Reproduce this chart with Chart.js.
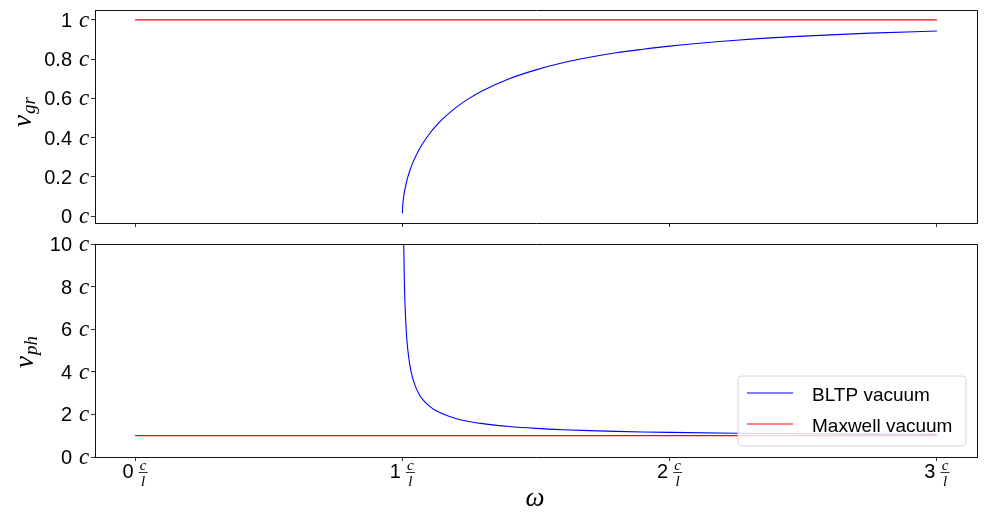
<!DOCTYPE html>
<html>
<head>
<meta charset="utf-8">
<script src="https://cdn.jsdelivr.net/npm/chart.js@4.4.0/dist/chart.umd.min.js"></script>
<style>
  html, body { margin: 0; padding: 0; background: #fff; }
  #wrap { position: relative; width: 997px; height: 512px; }
  canvas { position: absolute; left: 0; }
  #topChart { top: 0; }
  #bottomChart { top: 235px; }
</style>
</head>
<body>
<div id="wrap">
  <canvas id="topChart" width="997" height="235"></canvas>
  <canvas id="bottomChart" width="997" height="277"></canvas>
</div>
<script>
// tick values / labels
const xTicks = [0, 1, 2, 3];
const xTickLabels = ['0', '1', '2', '3'];
const grTicks = [0, 0.2, 0.4, 0.6, 0.8, 1];
const grTickLabels = ['0', '0.2', '0.4', '0.6', '0.8', '1'];
const phTicks = [0, 2, 4, 6, 8, 10];
const phTickLabels = ['0', '2', '4', '6', '8', '10'];

// group velocity, BLTP vacuum
const omegaGr = [1.0001, 1.0005, 1.001, 1.002, 1.003, 1.005, 1.0075, 1.01, 1.015, 1.02, 1.03, 1.04, 1.05, 1.06, 1.075,
  1.1, 1.125, 1.15, 1.2, 1.25, 1.3, 1.4, 1.5, 1.6, 1.7, 1.8, 1.9, 2.0, 2.25, 2.5, 2.75, 3.0];
const bltpGr = [0.014, 0.032, 0.045, 0.063, 0.077, 0.100, 0.122, 0.140, 0.171, 0.197, 0.240, 0.275, 0.305, 0.332, 0.367,
  0.417, 0.458, 0.494, 0.553, 0.600, 0.639, 0.700, 0.745, 0.781, 0.809, 0.832, 0.850, 0.866, 0.896, 0.917, 0.932, 0.943];

// phase velocity, BLTP vacuum
const omegaPh = [1.004, 1.005, 1.0075, 1.01, 1.015, 1.02, 1.03, 1.04, 1.05, 1.06, 1.075, 1.1, 1.125, 1.15, 1.2, 1.25,
  1.3, 1.4, 1.5, 1.6, 1.7, 1.8, 1.9, 2.0, 2.25, 2.5, 2.75, 3.0];
const bltpPh = [11.2, 10.04, 8.21, 7.12, 5.84, 5.07, 4.17, 3.64, 3.28, 3.01, 2.72, 2.40, 2.18, 2.03, 1.81, 1.667,
  1.565, 1.429, 1.342, 1.281, 1.237, 1.203, 1.176, 1.155, 1.116, 1.091, 1.074, 1.061];

// Maxwell vacuum: both velocities equal c
const maxwellOmega = [0, 3];
const maxwellV = [1, 1];

const legendLabels = ['BLTP vacuum', 'Maxwell vacuum'];
const seriesColors = ['#0000ff', '#ff0000'];

const SANS = '"Liberation Sans", Arial, sans-serif';
const SERIF = '"Liberation Serif", "DejaVu Serif", serif';

const toPoints = (xs, ys) => xs.map((x, i) => ({ x: x, y: ys[i] }));

// Draws frame, mixed-font tick labels, axis titles and the legend
const decorPlugin = {
  id: 'decor',
  afterDatasetsDraw(chart, args, opts) {
    const ctx = chart.ctx;
    const area = chart.chartArea;
    const xs = chart.scales.x;
    const ys = chart.scales.y;
    ctx.save();

    // y tick labels: "0.8 c"
    opts.yTicks.forEach((v, i) => {
      const py = ys.getPixelForValue(v);
      ctx.fillStyle = '#000';
      ctx.font = '20px ' + SANS;
      ctx.textAlign = 'right';
      ctx.textBaseline = 'alphabetic';
      ctx.fillText(opts.yLabels[i], 72, py + 7);
      ctx.font = 'italic 23px ' + SERIF;
      ctx.textAlign = 'left';
      ctx.fillText('c', 79, py + 7);
    });

    // x tick labels: "1 c/l"
    if (opts.xLabels) {
      const base = area.bottom + 21;
      xTicks.forEach((v, i) => {
        const px = xs.getPixelForValue(v);
        ctx.font = '20px ' + SANS;
        const dw = ctx.measureText(xTickLabels[i]).width;
        const total = dw + 5 + 9;
        const x0 = px - total / 2;
        ctx.textAlign = 'left';
        ctx.fillStyle = '#000';
        ctx.fillText(xTickLabels[i], x0, base);
        const fx = x0 + dw + 5 + 4.5;
        ctx.font = 'italic 15px ' + SERIF;
        ctx.textAlign = 'center';
        ctx.fillText('c', fx, base - 8);
        ctx.fillText('l', fx, base + 8);
        ctx.strokeStyle = '#000';
        ctx.lineWidth = 0.8;
        ctx.beginPath();
        ctx.moveTo(fx - 4.5, base - 5.5);
        ctx.lineTo(fx + 4.5, base - 5.5);
        ctx.stroke();
      });
      // x axis title
      ctx.font = 'italic 27px ' + SERIF;
      ctx.textAlign = 'center';
      ctx.fillText('\u03c9', 535, 271);
    }

    // y axis title, rotated
    ctx.save();
    ctx.translate(opts.titleX, opts.titleY);
    ctx.rotate(-Math.PI / 2);
    ctx.font = 'italic 27px ' + SERIF;
    const vw = ctx.measureText('v').width;
    ctx.font = 'italic 19px ' + SERIF;
    const sw = ctx.measureText(opts.sub).width;
    const start = -(vw + 1 + sw) / 2;
    ctx.textAlign = 'left';
    ctx.font = 'italic 27px ' + SERIF;
    ctx.fillText('v', start, 0);
    ctx.font = 'italic 19px ' + SERIF;
    ctx.fillText(opts.sub, start + vw + 1, 4);
    ctx.restore();

    // legend
    if (opts.legend) {
      const bx = 738, by = 141, bw = 228, bh = 70, r = 4;
      ctx.beginPath();
      ctx.moveTo(bx + r, by);
      ctx.arcTo(bx + bw, by, bx + bw, by + bh, r);
      ctx.arcTo(bx + bw, by + bh, bx, by + bh, r);
      ctx.arcTo(bx, by + bh, bx, by, r);
      ctx.arcTo(bx, by, bx + bw, by, r);
      ctx.closePath();
      ctx.fillStyle = 'rgba(255,255,255,0.8)';
      ctx.fill();
      ctx.strokeStyle = '#d6d6d6';
      ctx.lineWidth = 1;
      ctx.stroke();
      legendLabels.forEach((lab, i) => {
        const ly = 158 + i * 31;
        ctx.strokeStyle = seriesColors[i];
        ctx.lineWidth = 1.2;
        ctx.beginPath();
        ctx.moveTo(747, ly);
        ctx.lineTo(793, ly);
        ctx.stroke();
        ctx.fillStyle = '#000';
        ctx.font = '19px ' + SANS;
        ctx.textAlign = 'left';
        ctx.fillText(lab, 812, ly + 8);
      });
    }

    // top and right spines
    ctx.strokeStyle = '#111';
    ctx.lineWidth = 1;
    ctx.beginPath();
    ctx.moveTo(Math.round(area.left) + 0.5, Math.round(area.top) + 0.5);
    ctx.lineTo(Math.round(area.right) + 0.5, Math.round(area.top) + 0.5);
    ctx.lineTo(Math.round(area.right) + 0.5, Math.round(area.bottom) + 0.5);
    ctx.stroke();
    ctx.restore();
  }
};

function axisOpts(min, max, ticks, fixedSize, horizontal) {
  return {
    type: 'linear',
    min: min,
    max: max,
    afterBuildTicks: (s) => { s.ticks = ticks.map(v => ({ value: v })); },
    afterFit: (s) => { if (horizontal) s.height = fixedSize; else s.width = fixedSize; },
    ticks: { display: false },
    grid: { display: true, drawOnChartArea: false, drawTicks: true, tickLength: 4, color: '#000', lineWidth: 0.8 },
    border: { display: true, color: '#111', width: 1 }
  };
}

function makeChart(id, cfg) {
  return new Chart(document.getElementById(id).getContext('2d'), {
    type: 'line',
    data: {
      datasets: [
        { label: legendLabels[0], data: cfg.blue, borderColor: seriesColors[0], borderWidth: 1.1,
          pointRadius: 0, fill: false, cubicInterpolationMode: 'monotone' },
        { label: legendLabels[1], data: toPoints(maxwellOmega, maxwellV), borderColor: seriesColors[1],
          borderWidth: 1.3, pointRadius: 0, fill: false }
      ]
    },
    options: {
      responsive: false,
      animation: false,
      events: [],
      layout: { padding: cfg.padding },
      plugins: {
        legend: { display: false },
        tooltip: { enabled: false },
        decor: cfg.decor
      },
      scales: {
        x: axisOpts(-0.15, 3.15, xTicks, cfg.xHeight, true),
        y: axisOpts(cfg.yMin, cfg.yMax, cfg.yTicks, 95, false)
      }
    },
    plugins: [decorPlugin]
  });
}

makeChart('topChart', {
  blue: toPoints(omegaGr, bltpGr),
  padding: { left: 0, right: 20, top: 10, bottom: 0 },
  xHeight: 12,
  yMin: -0.035, yMax: 1.05, yTicks: grTicks,
  decor: { yTicks: grTicks, yLabels: grTickLabels, xLabels: false, legend: false, sub: 'gr', titleX: 31, titleY: 112 }
});

makeChart('bottomChart', {
  blue: toPoints(omegaPh, bltpPh),
  padding: { left: 0, right: 20, top: 9, bottom: 0 },
  xHeight: 55,
  yMin: 0, yMax: 10, yTicks: phTicks,
  decor: { yTicks: phTicks, yLabels: phTickLabels, xLabels: true, legend: true, sub: 'ph', titleX: 33, titleY: 117 }
});
</script>
</body>
</html>
